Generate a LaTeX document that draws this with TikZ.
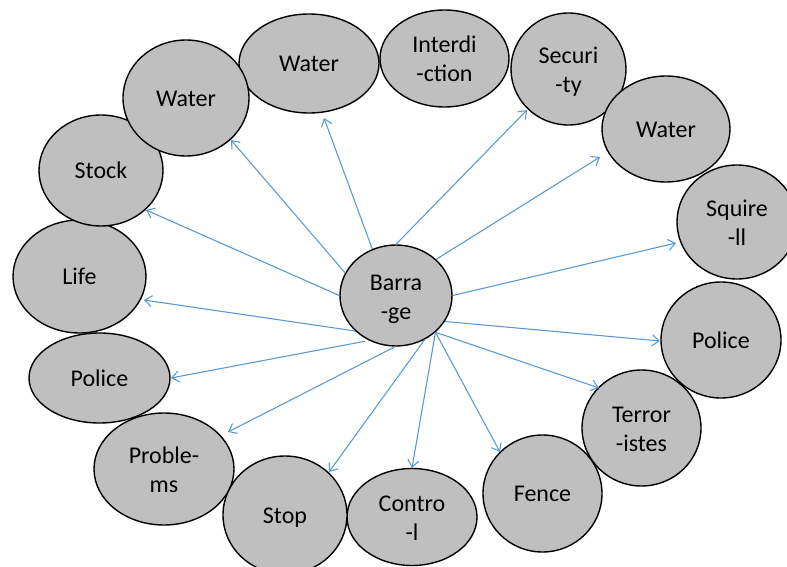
\documentclass[tikz,border=0pt]{standalone}
\usepackage{fontspec}
\setmainfont{Carlito}
\usetikzlibrary{shapes.geometric,arrows.meta}
\definecolor{bubblefill}{HTML}{BFBFBF}
\definecolor{linkblue}{HTML}{5B9BD5}
\begin{document}
\begin{tikzpicture}[x=1pt,y=-1pt,
  bubble/.style={ellipse, draw=black, line width=1.4pt, fill=bubblefill,
    inner sep=0pt, align=center, font=\fontsize{24}{29}\selectfont,
    text height=16.5pt, text depth=0pt},
  twoline/.style={text height=47pt, text depth=0pt},
  link/.style={draw=linkblue, line width=1.1pt,
    -{Straight Barb[length=7pt,width=11pt]}}]
\useasboundingbox (0,0) rectangle (787,567);

% hub
\node[bubble, twoline, minimum width=112pt, minimum height=101pt] (bar) at (396,295.5) {Barra\\-ge};

% ring of surrounding bubbles
\node[bubble, minimum width=140pt, minimum height=99pt]  (wtop)   at (309,63.5)  {Water};
\node[bubble, twoline, minimum width=129pt, minimum height=97pt]  (inter)  at (444.5,58.5) {Interdi\\-ction};
\node[bubble, twoline, minimum width=115pt, minimum height=112pt] (secu)   at (568.5,69)  {Securi\\-ty};
\node[bubble, minimum width=128pt, minimum height=106pt] (wright) at (666,129)   {Water};
\node[bubble, twoline, minimum width=120pt, minimum height=114pt] (squi)   at (737,222)   {Squire\\-ll};
\node[bubble, minimum width=120pt, minimum height=116pt] (polr)   at (721,340)   {Police};
\node[bubble, twoline, minimum width=119pt, minimum height=116pt] (terr)   at (641.5,428) {Terror\\-istes};
\node[bubble, minimum width=119pt, minimum height=117pt] (fence)  at (542.5,493.5) {Fence};
\node[bubble, twoline, minimum width=130pt, minimum height=97pt]  (contr)  at (412,517)   {Contro\\-l};
\node[bubble, minimum width=124pt, minimum height=118pt] (stop)   at (285,515)   {Stop};
\node[bubble, twoline, minimum width=140pt, minimum height=112pt] (probl)  at (164,469)   {Proble-\\ms};
\node[bubble, minimum width=141pt, minimum height=90pt]  (poll)   at (99.5,378)  {Police};
\node[bubble, minimum width=133pt, minimum height=113pt] (life)   at (79.5,276.5) {Life};
\node[bubble, minimum width=124pt, minimum height=111pt] (stock)  at (101,170.5) {Stock};
\node[bubble, minimum width=126pt, minimum height=116pt] (wleft)  at (186,98)    {Water};

% arrow tips stop just short of the bubbles
\coordinate (e-wtop)   at (324,118);
\coordinate (e-secu)   at (527,110);
\coordinate (e-wright) at (600,157);
\coordinate (e-squi)   at (676,243);
\coordinate (e-polr)   at (660,341);
\coordinate (e-terr)   at (599,388);
\coordinate (e-fence)  at (500,452);
\coordinate (e-contr)  at (412,468);
\coordinate (e-stop)   at (329,472);
\coordinate (e-probl)  at (228,432);
\coordinate (e-poll)   at (171,378);
\coordinate (e-life)   at (144,300);
\coordinate (e-stock)  at (146,210);
\coordinate (e-wleft)  at (231,140);

\draw[link] (bar.117)  -- (e-wtop);
\draw[link] (bar.90)   -- (e-secu);
\draw[link] (bar.42)   -- (e-wright);
\draw[link] (bar.0)    -- (e-squi);
\draw[link] (bar.-28)  -- (e-polr);
\draw[link] (bar.-43)  -- (e-terr);
\draw[link] (bar.-43)  -- (e-fence);
\draw[link] (bar.-43)  -- (e-contr);
\draw[link] (bar.-57)  -- (e-stop);
\draw[link] (bar.269)  -- (e-probl);
\draw[link, shorten <=4pt] (bar.239) -- (e-poll);
\draw[link] (bar.221)  -- (e-life);
\draw[link] (bar.180)  -- (e-stock);
\draw[link] (bar.156)  -- (e-wleft);
\end{tikzpicture}
\end{document}
